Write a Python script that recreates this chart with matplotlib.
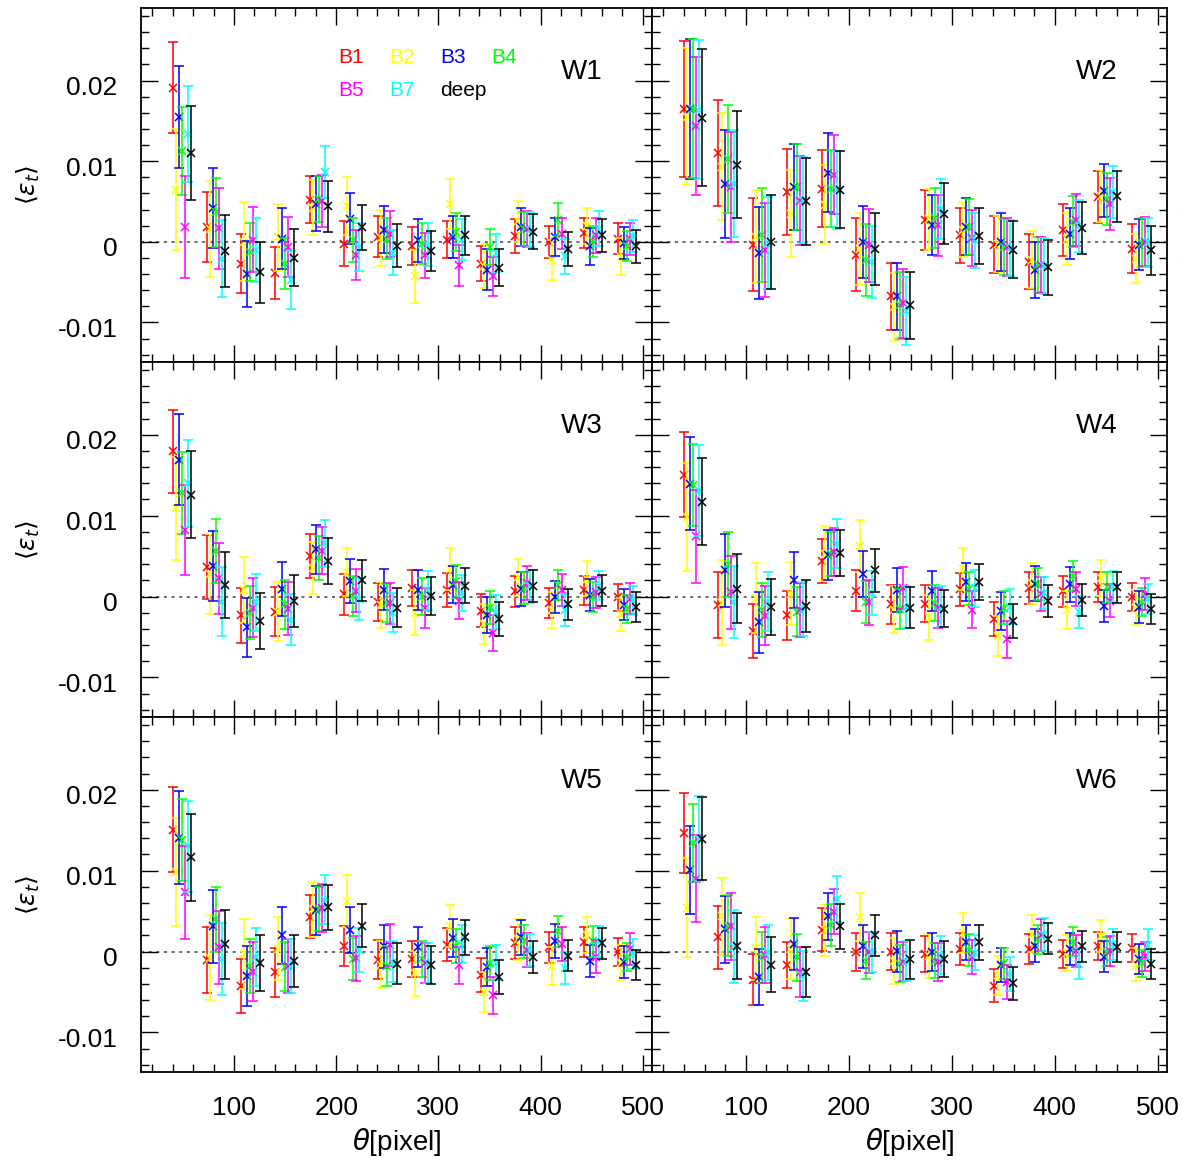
import matplotlib
matplotlib.use("Agg")
import matplotlib.pyplot as plt
import matplotlib.transforms as mtransforms
from matplotlib.ticker import MultipleLocator, FuncFormatter

plt.rcParams['font.family'] = ['Liberation Sans', 'DejaVu Sans']
plt.rcParams['mathtext.fontset'] = 'dejavusans'

# bin centres in pixels; every band is drawn slightly shifted to the right
THETA = [40, 73.5, 107, 140.5, 174, 207.5, 241, 274.5, 308, 341.5, 375, 408.5, 442, 475.5]
BANDS = ['B1', 'B2', 'B3', 'B4', 'B5', 'B7', 'deep']
COLORS = ['#ff0000', '#ffff00', '#0000ff', '#00ff00', '#ff00ff', '#00ffff', '#000000']
FIELDS = ['W1', 'W2', 'W3', 'W4', 'W5', 'W6']

# <e_t> per band (rows follow BANDS), units of 1e-3
W1_VAL = [
    [19.1, 1.86, -2.69, -3.88, 5.25, -0.25, 0.66, -0.54, 0.29, -2.69, 0.70, -0.04, 1.12, 0.41],
    [6.49, 1.61, 0.0, 0.54, 4.21, 4.42, 0.5, -4.26, 4.71, -3.02, 2.56, -2.27, 1.94, -1.86],
    [15.5, 4.17, -3.97, 0.41, 4.75, 2.89, 1.53, 0.17, 0.62, -3.43, 1.86, 0.62, -0.54, -0.12],
    [11.32, 3.68, -1.24, -2.69, 5.33, 0.21, 0.41, -0.21, 1.24, -0.62, 1.61, 2.77, 0.08, -0.54],
    [1.82, 1.69, 0.29, -0.66, 5.04, -1.61, 0.99, -1.65, -2.93, -4.26, 1.61, 1.03, 0.79, 0.37],
    [13.39, -2.11, -0.99, -4.75, 8.68, -0.62, -1.36, -0.33, 0.29, -1.36, 1.53, -1.78, 1.65, 0.70],
    [11.03, -1.12, -3.76, -1.98, 4.42, 1.78, -0.5, -1.16, 0.79, -3.22, 1.24, -0.87, 0.79, -0.54],
]
W1_ERR = [
    [5.64, 4.3, 3.66, 3.26, 2.89, 2.79, 2.5, 2.38, 2.31, 2.17, 2.11, 1.96, 1.86, 1.92],
    [7.56, 5.95, 4.9, 4.1, 3.4, 3.6, 3.5, 3.3, 3.1, 2.7, 2.52, 2.5, 2.21, 2.3],
    [6.32, 4.94, 4.07, 3.82, 3.41, 3.2, 2.89, 2.62, 2.6, 2.52, 2.33, 2.33, 2.27, 1.98],
    [5.45, 4.3, 3.57, 3.2, 2.89, 2.73, 2.58, 2.5, 2.33, 2.27, 2.13, 2.07, 1.9, 1.85],
    [6.36, 5.0, 4.03, 3.72, 3.26, 3.06, 2.85, 2.79, 2.58, 2.44, 2.23, 1.96, 2.13, 2.0],
    [5.99, 4.77, 3.99, 3.6, 3.24, 2.95, 2.79, 2.69, 2.58, 2.38, 2.21, 2.17, 2.13, 1.96],
    [5.87, 4.44, 3.78, 3.53, 3.18, 2.79, 2.67, 2.5, 2.36, 2.31, 2.17, 2.09, 2.0, 2.05],
]

W2_VAL = [
    [16.49, 10.99, -0.33, 6.16, 6.61, -1.57, -6.74, 2.69, 0.79, -0.33, -2.48, 1.45, 5.54, -0.87],
    [15.5, 9.3, 0.62, 3.47, 4.63, -0.87, -8.06, 2.8, 1.53, -0.21, -2.19, 0.37, 5.66, -2.11],
    [16.49, 7.19, -1.36, 6.78, 8.55, 0.0, -6.74, 2.07, 1.86, -0.04, -3.51, 1.03, 6.36, -0.33],
    [16.49, 10.29, 0.79, 6.78, 6.61, -2.27, -7.89, 2.98, 1.86, -0.66, -2.81, 2.48, 5.33, -0.12],
    [14.34, 6.82, -1.03, 5.12, 8.35, -0.45, -7.64, 2.07, 0.5, -0.62, -2.93, 2.69, 4.71, 0.0],
    [16.4, 7.19, -0.12, 5.17, 6.4, -2.48, -8.6, 4.09, 0.21, -0.74, -3.02, 1.94, 6.16, -0.04],
    [15.41, 9.59, 0.0, 5.04, 6.49, -0.87, -7.89, 3.47, 0.7, -0.95, -3.14, 1.69, 5.66, -1.03],
]
W2_ERR = [
    [8.47, 6.57, 5.74, 5.33, 4.77, 4.48, 4.13, 3.68, 3.43, 3.51, 3.41, 3.2, 3.2, 3.04],
    [8.49, 6.65, 5.76, 5.41, 4.86, 4.48, 4.19, 3.75, 3.47, 3.47, 3.51, 3.2, 3.2, 3.04],
    [8.66, 6.74, 5.74, 5.35, 4.9, 4.5, 4.13, 3.74, 3.53, 3.62, 3.45, 3.2, 3.26, 3.14],
    [8.62, 6.69, 5.83, 5.35, 4.81, 4.5, 4.17, 3.72, 3.51, 3.51, 3.43, 3.16, 3.2, 3.02],
    [8.57, 6.84, 5.8, 5.5, 4.9, 4.5, 4.24, 3.78, 3.47, 3.57, 3.47, 3.2, 3.26, 3.02],
    [8.57, 6.65, 5.68, 5.37, 4.86, 4.44, 4.19, 3.74, 3.41, 3.51, 3.47, 3.2, 3.2, 3.02],
    [8.51, 6.65, 5.79, 5.39, 4.79, 4.44, 4.17, 3.78, 3.45, 3.49, 3.41, 3.24, 3.14, 3.04],
]

W3_VAL = [
    [17.97, 3.64, -2.31, -1.86, 5.0, 0.25, -0.70, 1.03, 0.83, -1.74, 0.62, -0.83, 0.79, -0.12],
    [10.9, 2.77, 0.79, -1.86, 3.51, 3.06, -1.0, -2.02, 3.39, -3.35, 2.36, -1.65, 2.19, -2.19],
    [16.9, 3.8, -3.8, 0.95, 5.83, 1.9, 0.83, 0.83, 1.45, -2.27, 0.95, -0.08, 0.21, -1.03],
    [12.85, 5.62, -1.98, -0.95, 4.75, 0.04, -0.79, 0.0, 1.86, -1.36, 1.03, 1.45, -0.08, -1.53],
    [8.18, 2.23, -1.36, -1.49, 5.66, 0.74, -0.83, -1.45, -0.54, -4.55, 1.65, 0.79, 0.5, -0.29],
    [14.0, -0.62, -0.70, -2.85, 6.57, -0.29, -1.98, 0.7, 0.45, -1.94, 1.24, -1.65, 1.36, -0.45],
    [12.6, 1.45, -3.02, -0.54, 4.42, 1.98, -1.36, 0.04, 1.36, -2.77, 1.24, -0.95, 0.74, -1.32],
]
W3_ERR = [
    [5.12, 3.97, 3.39, 3.06, 2.75, 2.5, 2.33, 2.25, 2.1, 2.05, 1.94, 1.88, 1.78, 1.71],
    [6.36, 4.96, 4.1, 3.7, 3.22, 2.95, 2.85, 2.8, 2.56, 2.48, 2.31, 2.25, 2.15, 2.02],
    [5.64, 4.34, 3.62, 3.37, 3.0, 2.73, 2.54, 2.48, 2.27, 2.23, 2.09, 1.98, 1.94, 1.92],
    [5.08, 3.95, 3.33, 3.02, 2.75, 2.46, 2.38, 2.27, 2.07, 1.98, 1.98, 1.86, 1.84, 1.71],
    [5.56, 4.38, 3.64, 3.29, 2.91, 2.69, 2.54, 2.48, 2.29, 2.21, 2.07, 2.0, 1.94, 1.9],
    [5.37, 4.21, 3.53, 3.2, 2.95, 2.6, 2.46, 2.42, 2.21, 2.13, 2.0, 1.96, 1.82, 1.8],
    [5.39, 4.11, 3.47, 3.2, 2.85, 2.54, 2.46, 2.33, 2.13, 2.11, 1.98, 1.9, 1.86, 1.86],
]

W4_VAL = [
    [15.08, -1.07, -4.26, -2.31, 4.42, 0.74, -0.95, -0.87, 0.87, -2.81, 1.07, 0.66, 1.2, -0.08],
    [9.83, -0.79, -0.21, 0.33, 5.29, 6.28, -1.65, -2.56, 3.39, -4.92, 1.65, -1.69, 2.27, -1.36],
    [13.97, 3.22, -3.18, 2.07, 5.17, 2.81, 0.79, 0.7, 1.82, -1.82, 1.57, 1.49, -1.16, -1.24],
    [13.84, 4.0, -1.65, -1.86, 5.25, -0.70, -1.53, -0.79, 0.99, -1.36, 1.53, 2.56, 1.12, -0.7],
    [7.44, 0.5, -2.36, -1.69, 5.5, -0.70, 1.03, -1.45, -1.65, -5.29, 0.29, 0.91, -0.5, 0.33],
    [13.1, -0.66, -0.62, -1.53, 6.53, 0.41, -1.32, -1.24, 1.03, -1.24, 0.41, -1.9, 1.2, -0.29],
    [11.74, 0.95, -1.32, -1.16, 5.41, 3.22, -1.36, -1.49, 1.82, -3.02, -0.58, -0.45, 1.12, -1.53],
]
W4_ERR = [
    [5.21, 4.05, 3.37, 3.04, 2.69, 2.5, 2.4, 2.27, 2.05, 2.11, 1.94, 1.9, 1.84, 1.76],
    [6.65, 5.25, 4.3, 3.9, 3.4, 3.2, 2.9, 2.8, 2.58, 2.48, 2.54, 2.35, 2.2, 2.19],
    [5.74, 4.52, 3.76, 3.47, 3.08, 2.85, 2.69, 2.5, 2.33, 2.33, 2.17, 2.13, 2.02, 1.98],
    [5.08, 4.0, 3.3, 3.04, 2.73, 2.56, 2.48, 2.27, 2.07, 2.07, 2.0, 1.88, 1.94, 1.74],
    [5.74, 4.5, 3.68, 3.35, 2.95, 2.79, 2.6, 2.48, 2.27, 2.31, 2.09, 2.1, 2.07, 1.94],
    [5.6, 4.48, 3.62, 3.3, 3.0, 2.73, 2.58, 2.48, 2.31, 2.19, 2.0, 2.0, 1.92, 1.84],
    [5.39, 4.26, 3.49, 3.22, 2.83, 2.64, 2.52, 2.31, 2.21, 2.11, 2.0, 1.96, 1.9, 1.86],
]

W5_VAL = [
    [15.08, -1.07, -4.26, -2.56, 4.3, 0.7, -1.03, -0.91, 0.83, -2.93, 1.07, 0.54, 1.2, -0.08],
    [9.83, -0.79, -0.33, 0.33, 5.25, 6.2, -1.65, -2.69, 3.18, -5.0, 1.53, -1.74, 2.07, -1.36],
    [14.05, 3.1, -3.02, 1.98, 5.08, 2.64, 0.62, 0.54, 1.69, -1.94, 1.74, 1.32, -1.16, -1.32],
    [13.84, 4.0, -1.78, -1.86, 5.29, -0.91, -1.78, -0.91, 0.7, -1.45, 1.24, 2.48, 1.24, -0.70],
    [7.31, 0.5, -2.48, -1.78, 5.37, -0.83, 0.79, -1.45, -1.69, -5.41, 0.21, 0.87, -0.62, 0.33],
    [13.02, -0.91, -0.70, -1.78, 6.4, 0.21, -1.24, -1.45, 0.91, -1.36, 0.21, -2.02, 1.24, -0.33],
    [11.65, 0.91, -1.45, -1.16, 5.45, 3.18, -1.49, -1.65, 1.74, -3.14, -0.70, -0.5, 1.03, -1.65],
]
W5_ERR = [
    [5.21, 4.05, 3.37, 3.04, 2.69, 2.5, 2.4, 2.27, 2.05, 2.11, 1.94, 1.9, 1.84, 1.76],
    [6.65, 5.25, 4.3, 3.9, 3.4, 3.2, 2.9, 2.8, 2.58, 2.48, 2.54, 2.35, 2.2, 2.19],
    [5.74, 4.52, 3.76, 3.47, 3.08, 2.85, 2.69, 2.5, 2.33, 2.33, 2.17, 2.13, 2.02, 1.98],
    [5.08, 4.0, 3.3, 3.04, 2.73, 2.56, 2.48, 2.27, 2.07, 2.07, 2.0, 1.88, 1.94, 1.74],
    [5.74, 4.5, 3.68, 3.35, 2.95, 2.79, 2.6, 2.48, 2.27, 2.31, 2.09, 2.1, 2.07, 1.94],
    [5.6, 4.48, 3.62, 3.3, 3.0, 2.73, 2.58, 2.48, 2.31, 2.19, 2.0, 2.0, 1.92, 1.84],
    [5.39, 4.26, 3.49, 3.22, 2.83, 2.64, 2.52, 2.31, 2.21, 2.11, 2.0, 1.96, 1.9, 1.86],
]

W6_VAL = [
    [14.67, 1.74, -3.51, -1.69, 2.69, -0.04, 0.0, -0.33, 0.33, -4.21, 0.29, -0.29, 0.66, 0.41],
    [5.41, 4.34, 0.41, 0.29, 2.6, 4.26, -1.16, -0.54, 2.27, -2.93, 2.19, -0.21, 1.94, -1.61],
    [10.04, 2.73, -3.14, 0.91, 4.34, 0.62, 0.04, -0.08, 1.12, -1.69, 0.7, 0.29, -0.62, -0.95],
    [13.43, 3.18, -0.70, -0.70, 3.26, -1.12, -1.49, -1.16, 0.17, -1.45, 1.53, 1.2, 0.0, -1.45],
    [9.0, 3.1, -0.45, -2.52, 4.92, -0.12, -1.24, -1.32, -0.66, -3.76, 2.07, 0.08, 0.04, -0.58],
    [13.97, 0.6, -0.12, -3.02, 6.49, -0.08, -1.16, -0.45, -0.17, -2.73, 2.07, -1.49, 0.87, 0.83],
    [13.93, 0.66, -1.65, -2.52, 3.1, 1.98, -0.95, -0.87, 1.12, -3.93, 1.57, 0.62, 0.54, -1.57],
]
W6_ERR = [
    [4.92, 3.86, 3.16, 2.85, 2.64, 2.38, 2.29, 2.21, 2.02, 2.0, 1.84, 1.76, 1.74, 1.74],
    [6.14, 4.79, 3.9, 3.7, 3.16, 3.0, 2.85, 2.69, 2.5, 2.42, 2.3, 2.21, 2.0, 2.05],
    [5.45, 4.15, 3.43, 3.2, 2.89, 2.62, 2.54, 2.38, 2.15, 2.13, 2.05, 1.94, 1.92, 1.82],
    [4.86, 3.76, 3.14, 2.89, 2.58, 2.31, 2.31, 2.17, 1.96, 1.92, 1.78, 1.78, 1.8, 1.69],
    [5.35, 4.17, 3.47, 3.1, 2.81, 2.52, 2.42, 2.33, 2.09, 2.13, 1.96, 1.94, 1.86, 1.78],
    [5.29, 4.5, 3.37, 3.14, 2.85, 2.5, 2.46, 2.33, 2.17, 2.11, 2.02, 1.9, 1.88, 1.9],
    [5.14, 4.05, 3.39, 3.12, 2.81, 2.48, 2.4, 2.23, 2.13, 2.05, 1.9, 1.86, 1.84, 1.82],
]

PANELS = [(W1_VAL, W1_ERR), (W2_VAL, W2_ERR), (W3_VAL, W3_ERR),
          (W4_VAL, W4_ERR), (W5_VAL, W5_ERR), (W6_VAL, W6_ERR)]
SCALE = 1e-3
SHIFT = 3.0

W, H = 1184, 1160
fig = plt.figure(figsize=(W / 100, H / 100), dpi=100)

col_x = [(141, 511), (652, 515)]
row_y = [(8, 362), (362, 717), (717, 1072)]

# y labels sit a few pixels below their ticks
ylab_shift = mtransforms.ScaledTranslation(0, -5 / 100, fig.dpi_scale_trans)

axes = []
for i, (vals, errs) in enumerate(PANELS):
    r, c = divmod(i, 2)
    x0, w = col_x[c]
    top, bot = row_y[r]
    ax = fig.add_axes([x0 / W, 1 - bot / H, w / W, (bot - top) / H])
    axes.append(ax)

    ax.axhline(0, color='#444444', lw=1.1, ls=(0, (2.0, 3.0)), zorder=1)
    for j, band in enumerate(BANDS):
        xs = [t + SHIFT * j for t in THETA]
        ys = [v * SCALE for v in vals[j]]
        es = [e * SCALE for e in errs[j]]
        ax.errorbar(xs, ys, yerr=es, fmt='x', color=COLORS[j], ms=6, mew=1.1,
                    elinewidth=1.1, capsize=3.3, capthick=1.1, zorder=2 + j)

    ax.set_xlim(9, 509)
    ax.set_ylim(-0.0149, 0.0290)
    ax.xaxis.set_major_locator(MultipleLocator(100))
    ax.xaxis.set_minor_locator(MultipleLocator(20))
    ax.yaxis.set_major_locator(MultipleLocator(0.01))
    ax.yaxis.set_minor_locator(MultipleLocator(0.002))
    ax.xaxis.set_major_formatter(FuncFormatter(lambda v, p: '%d' % round(v)))
    ax.yaxis.set_major_formatter(FuncFormatter(lambda v, p: '%g' % round(v, 3)))
    ax.tick_params(which='both', direction='in', top=True, right=True,
                   labelsize=19, width=1.0, colors='black')
    ax.tick_params(which='major', length=12)
    ax.tick_params(which='minor', length=5.5)
    ax.tick_params(axis='x', pad=17, labelbottom=(r == 2))
    ax.tick_params(axis='y', pad=17, labelleft=(c == 0))
    for s in ax.spines.values():
        s.set_linewidth(1.3)
    if c == 0:
        for lab in ax.get_yticklabels():
            lab.set_transform(lab.get_transform() + ylab_shift)

    ax.text(0.863, 0.82, FIELDS[i], transform=ax.transAxes, ha='center',
            va='center', fontsize=20)

# band key inside the first panel
key_pos = [(0.3855, 0.859), (0.4853, 0.859), (0.5851, 0.859), (0.6849, 0.859),
           (0.3855, 0.768), (0.4853, 0.768), (0.5851, 0.768)]
for (kx, ky), band, col in zip(key_pos, BANDS, COLORS):
    axes[0].text(kx, ky, band, color=col, transform=axes[0].transAxes,
                 ha='left', va='center', fontsize=15)

for top, bot in row_y:
    fig.text(28 / W, 1 - (top + bot) / 2 / H, r'$\langle\epsilon_t\rangle$',
             rotation=90, ha='center', va='center', fontsize=18)

for x0, w in col_x:
    fig.text((x0 + w / 2) / W, 1 - 1142 / H, r'$\theta$[pixel]',
             ha='center', va='center', fontsize=20)

fig.savefig('out.png', dpi=100)
